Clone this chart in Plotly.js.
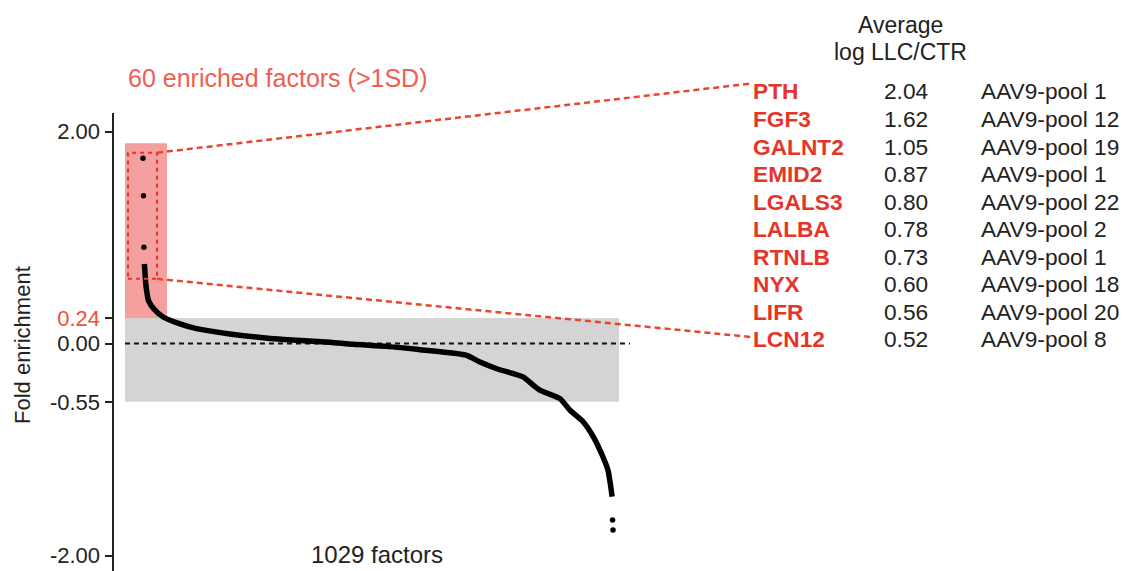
<!DOCTYPE html>
<html>
<head>
<meta charset="utf-8">
<script src="https://cdn.plot.ly/plotly-3.0.1.min.js"></script>
<style>
html,body{margin:0;padding:0;background:#fff;}
#chart{width:1133px;height:571px;}
</style>
</head>
<body>
<div id="chart"></div>
<script>
// ---- data ----
const curveIdx = [4,5,6,8,13,24,45,82,118,191,264,337,410,461,534,607,680,709,738,775,811,833,855,869,913,935,964,986,1004,1018,1023,1027];
const curveVal = [0.75,0.69,0.625,0.53,0.405,0.33,0.25,0.185,0.14,0.09,0.055,0.03,0.012,-0.008,-0.027,-0.058,-0.091,-0.112,-0.175,-0.238,-0.285,-0.317,-0.395,-0.44,-0.52,-0.63,-0.74,-0.88,-1.04,-1.195,-1.32,-1.445];
const outIdx = [1,2,3,1028,1029];
const outVal = [1.747,1.394,0.908,-1.665,-1.76];

const tickVals = [2, 0.24, 0, -0.55, -2];
const tickText = ['2.00', '0.24', '0.00', '-0.55', '-2.00'];

const genes = ['PTH','FGF3','GALNT2','EMID2','LGALS3','LALBA','RTNLB','NYX','LIFR','LCN12'];
const avgLog = ['2.04','1.62','1.05','0.87','0.80','0.78','0.73','0.60','0.56','0.52'];
const pools = ['AAV9-pool 1','AAV9-pool 12','AAV9-pool 19','AAV9-pool 1','AAV9-pool 22','AAV9-pool 2','AAV9-pool 1','AAV9-pool 18','AAV9-pool 20','AAV9-pool 8'];

const sdUpper = 0.24, sdLower = -0.55;

// ---- layout geometry ----
const W = 1133, H = 571;
const L = 114, R = 640, T = 113, B = 571;
const xRange = [-62.4, 1088];
const yRange = [-2.146, 2.1745];
const px = v => (v - xRange[0]) / (xRange[1] - xRange[0]) * (R - L) + L;
const py = v => B - (v - yRange[0]) / (yRange[1] - yRange[0]) * (B - T);
const xp = p => (p - L) / (R - L);       // pixel -> paper x
const yp = p => (B - p) / (B - T);       // pixel -> paper y

const FONT = '"Liberation Sans", Arial, sans-serif';
const RED = '#e5352b';
const DASHRED = '#e8472e';

const traces = [
  {x: curveIdx, y: curveVal, mode: 'lines', type: 'scatter',
   line: {color: '#000', width: 5.5, shape: 'spline', smoothing: 0.6}, hoverinfo: 'skip'},
  {x: outIdx, y: outVal, mode: 'markers', type: 'scatter',
   marker: {color: '#000', size: 5.5}, hoverinfo: 'skip'}
];

// rectangle bounds (data coords)
const boxX0 = -31.8, boxX1 = 31.6, boxY0 = 0.61, boxY1 = 1.80;

const shapes = [
  {type: 'rect', xref: 'x', yref: 'y', x0: -38.4, x1: 53.5, y0: sdUpper, y1: 1.89,
   fillcolor: '#f59f9f', line: {width: 0}, layer: 'below'},
  {type: 'rect', xref: 'x', yref: 'y', x0: -38.4, x1: 1042, y0: sdLower, y1: sdUpper,
   fillcolor: '#d4d4d4', line: {width: 0}, layer: 'below'},
  {type: 'line', xref: 'x', yref: 'y', x0: -38.4, x1: 1066, y0: 0, y1: 0,
   line: {color: '#111', width: 2, dash: '5px,4px'}, layer: 'below'},
  {type: 'rect', xref: 'x', yref: 'y', x0: boxX0, x1: boxX1, y0: boxY0, y1: boxY1,
   line: {color: RED, width: 2, dash: '4px,4px'}},
  {type: 'line', xref: 'paper', yref: 'paper',
   x0: xp(px(boxX1)), y0: yp(py(boxY1)), x1: xp(751), y1: yp(83.5),
   line: {color: DASHRED, width: 2.5, dash: '6px,4px'}},
  {type: 'line', xref: 'paper', yref: 'paper',
   x0: xp(px(boxX1)), y0: yp(py(boxY0)), x1: xp(751), y1: yp(337),
   line: {color: DASHRED, width: 2.5, dash: '6px,4px'}}
];

const ann = [];
function txt(text, x, y, opts) {
  ann.push(Object.assign({text: text, xref: 'paper', yref: 'paper', x: xp(x), y: yp(y),
    showarrow: false, xanchor: 'left', yanchor: 'middle',
    font: {family: FONT, size: 22.7, color: '#222'}}, opts || {}));
}
const rowY0 = 91.5, rowStep = 27.5;
genes.forEach((g, i) => {
  const y = rowY0 + i * rowStep;
  txt('<b>' + g + '</b>', 751, y, {font: {family: FONT, size: 22.7, color: RED}});
  txt(avgLog[i], 882, y);
  txt(pools[i], 979, y);
});
txt('Average', 900, 25, {xanchor: 'center', font: {family: FONT, size: 23, color: '#222'}});
txt('log LLC/CTR', 900, 52, {xanchor: 'center', font: {family: FONT, size: 23, color: '#222'}});
txt('60 enriched factors (>1SD)', 126, 78, {font: {family: FONT, size: 25, color: '#ef5e52'}});
txt('1029 factors', 377, 554, {xanchor: 'center', font: {family: FONT, size: 24, color: '#222'}});
txt('Fold enrichment', 22, 345, {xanchor: 'center', textangle: -90, font: {family: FONT, size: 22, color: '#222'}});

const tickTextStyled = tickText.map((t, i) => tickVals[i] === sdUpper ? '<span style="color:#ec5431">' + t + '</span>' : t);

const layout = {
  width: W, height: H,
  margin: {l: L, r: W - R, t: T, b: H - B, pad: 0},
  paper_bgcolor: '#fff', plot_bgcolor: 'rgba(0,0,0,0)',
  showlegend: false,
  xaxis: {range: xRange, visible: false, fixedrange: true},
  yaxis: {range: yRange, tickvals: tickVals, ticktext: tickTextStyled,
    showgrid: false, zeroline: false, showline: true, linecolor: '#222', linewidth: 2.5,
    ticks: 'outside', ticklen: 7, tickwidth: 2, tickcolor: '#222',
    tickfont: {family: FONT, size: 22, color: '#222'}, fixedrange: true},
  shapes: shapes,
  annotations: ann
};

Plotly.newPlot('chart', traces, layout, {staticPlot: true, displayModeBar: false});
</script>
</body>
</html>
